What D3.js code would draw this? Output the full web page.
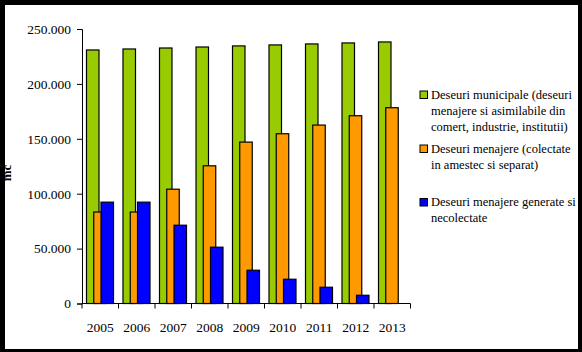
<!DOCTYPE html>
<html>
<head>
<meta charset="utf-8">
<script src="https://cdn.jsdelivr.net/npm/d3@7"></script>
<style>
    html, body { margin: 0; padding: 0; background: #000; }
    svg { display: block; }
</style>
</head>
<body>
<div id="plot"></div>
<script>
const years = ["2005", "2006", "2007", "2008", "2009", "2010", "2011", "2012", "2013"];
const municipale = [230900, 231800, 232700, 233600, 234600, 235500, 236400, 237300, 238200];
const menajere = [83300, 83300, 104100, 125400, 147000, 154600, 162500, 171000, 178300];
const necolectate = [92300, 92300, 71300, 51300, 30300, 22100, 14800, 7500, 0];
const y_ticks = [0, 50000, 100000, 150000, 200000, 250000];
const series_names = [
    ["Deseuri municipale (deseuri", "menajere si asimilabile din", "comert, industrie, institutii)"],
    ["Deseuri menajere (colectate", "in amestec si separat)"],
    ["Deseuri menajere generate si", "necolectate"]
];
const series_colors = ["#99cc00", "#ff9900", "#0000ff"];

const width = 582, height = 352;
const serif = "'Liberation Serif', 'Times New Roman', Tinos, 'DejaVu Serif', serif";

const svg = d3.select("#plot").append("svg")
    .attr("width", width)
    .attr("height", height)
    .attr("font-family", serif);

// white page inside the black frame
svg.append("rect")
    .attr("x", 5).attr("y", 5)
    .attr("width", 573).attr("height", 344)
    .attr("fill", "#fff");

let x = d3.scaleBand().domain(years).range([82, 410.5]);
let y = d3.scaleLinear().domain([0, 250000]).range([303.5, 29]);
// offset of each series inside a year, bars overlap a bit
let x_series = d3.scaleLinear().domain([0, 2]).range([4.5, 19]);
const bar_w = 12.5;

const fmt = d => d === 0 ? "0" : d3.format(",")(d).replace(/,/g, ".");

// y axis
let y_axis = svg.append("g")
    .attr("transform", "translate(82,0)")
    .call(d3.axisLeft(y).tickValues(y_ticks).tickFormat(fmt).tickSize(5).tickPadding(6));
y_axis.attr("font-family", null).attr("font-size", null);
y_axis.selectAll("text").style("font-family", serif).style("font-size", "13.5px");

// x axis, ticks between categories
let x_axis = svg.append("g").attr("transform", "translate(0,303.5)");
x_axis.append("line")
    .attr("x1", 82).attr("x2", 410.5)
    .attr("stroke", "#000");
x_axis.selectAll("line.tick")
    .data(years.concat(["end"]))
    .join("line")
    .attr("class", "tick")
    .attr("x1", (d, i) => i < years.length ? x(d) : x.range()[1])
    .attr("x2", (d, i) => i < years.length ? x(d) : x.range()[1])
    .attr("y1", 0).attr("y2", 5)
    .attr("stroke", "#000");
x_axis.selectAll("text")
    .data(years)
    .join("text")
    .attr("x", d => x(d) + x.bandwidth() / 2)
    .attr("y", 28)
    .attr("text-anchor", "middle")
    .style("font-family", serif)
    .style("font-size", "13.5px")
    .text(d => d);
svg.selectAll(".domain, .tick line").attr("stroke", "#000");

// bars
const all_series = [municipale, menajere, necolectate];
all_series.forEach((values, s) => {
    svg.append("g")
        .selectAll("rect")
        .data(values.map((v, i) => ({ year: years[i], value: v })).filter(d => d.value > 0))
        .join("rect")
        .attr("x", d => x(d.year) + x_series(s))
        .attr("y", d => y(d.value))
        .attr("width", bar_w)
        .attr("height", d => y(0) - y(d.value))
        .attr("fill", series_colors[s])
        .attr("stroke", "#000")
        .attr("stroke-width", 1.2);
});

// y axis title, partly hidden under the frame
svg.append("text")
    .attr("transform", "translate(11,173) rotate(-90)")
    .attr("text-anchor", "middle")
    .style("font-family", serif)
    .style("font-size", "13px")
    .style("font-weight", "bold")
    .text("mc");

// legend
const legend_y = [91, 145, 198.5];
series_names.forEach((lines, s) => {
    let g = svg.append("g").attr("transform", `translate(420,${legend_y[s]})`);
    g.append("rect")
        .attr("width", 7.5).attr("height", 7.5)
        .attr("fill", series_colors[s])
        .attr("stroke", "#000")
        .attr("stroke-width", 1);
    g.selectAll("text")
        .data(lines)
        .join("text")
        .attr("x", 11)
        .attr("y", (d, i) => 7.5 + i * 16.3)
        .style("font-family", serif)
        .style("font-size", "12.5px")
        .text(d => d);
});
</script>
</body>
</html>
